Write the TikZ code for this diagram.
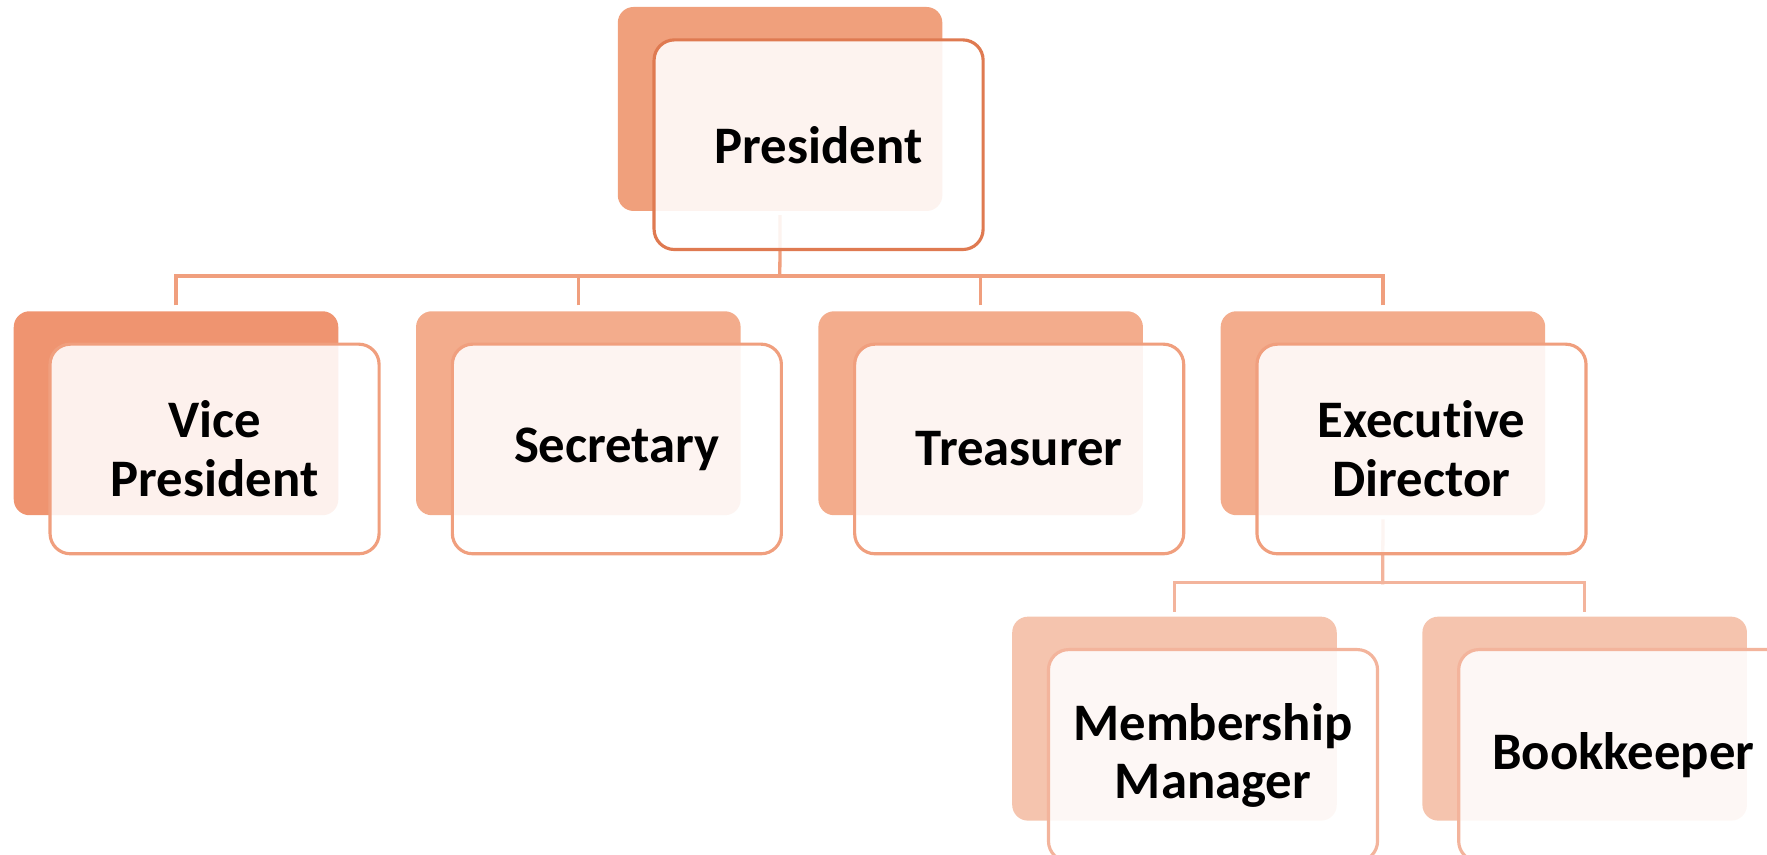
\documentclass[tikz,border=0pt]{standalone}
\usepackage{fontspec}
\setmainfont{Carlito}[Ligatures={NoCommon,NoRare,NoContextual}]
\definecolor{presback}{HTML}{F0A07C}
\definecolor{presline}{HTML}{DF7A51}
\definecolor{vpback}{HTML}{EF9470}
\definecolor{twoback}{HTML}{F3AC8C}
\definecolor{twoline}{HTML}{F09F7E}
\definecolor{threeback}{HTML}{F5C4AE}
\definecolor{threeline}{HTML}{F3B49C}
\begin{document}
\begin{tikzpicture}[x=1pt,y=-1pt,
  backbox/.style={draw=none, rounded corners=14pt, minimum width=288pt, minimum height=181pt, inner sep=0pt, anchor=north west},
  frontbox/.style={rounded corners=18pt, minimum width=292pt, minimum height=186pt, inner sep=0pt, anchor=north west,
     fill=white, fill opacity=0.88, text opacity=1, line width=2.8pt, align=center,
     font=\fontsize{46.8}{52}\selectfont\bfseries},
  link/.style={line width=2.9pt},
]
\useasboundingbox (0,0) rectangle (1568,758);
\clip (0,0) rectangle (1568,758);
% back rectangles
\node[backbox, fill=presback] (presB) at (548,6) {};
\node[backbox, fill=vpback] (vpB) at (12,276) {};
\node[backbox, fill=twoback] (secB) at (369,276) {};
\node[backbox, fill=twoback] (treB) at (726,276) {};
\node[backbox, fill=twoback] (exeB) at (1083,276) {};
\node[backbox, fill=threeback] (memB) at (898,547) {};
\node[backbox, fill=threeback] (booB) at (1262,547) {};
% connectors
\coordinate (barA) at (692,245);
\coordinate (barB) at (1227,517);
\draw[link, twoline, shorten <=5pt] (vpB.north) |- (barA);
\draw[link, twoline, shorten <=5pt] (secB.north) |- (barA);
\draw[link, twoline, shorten <=5pt] (treB.north) |- (barA);
\draw[link, twoline, shorten <=5pt] (exeB.north) |- (barA);
\draw[link, twoline, line cap=rect, shorten <=5pt] (presB.south) -- (barA);
\draw[link, threeline, shorten <=4pt] (memB.north) |- (barB);
\draw[link, threeline, shorten <=4pt] (booB.north) |- (barB);
\draw[link, threeline, line cap=rect, shorten <=5pt] (exeB.south) -- (barB);
% front boxes
\node[frontbox, draw=presline] (presF) at (579,34) {President};
\node[frontbox, draw=twoline] (vpF) at (43,304) {Vice\\President};
\node[frontbox, draw=twoline] (secF) at (400,304) {Secretary};
\node[frontbox, draw=twoline] (treF) at (757,304) {Treasurer};
\node[frontbox, draw=twoline] (exeF) at (1114,304) {Executive\\Director};
\node[frontbox, draw=threeline, minimum height=188pt] (memF) at (929,575) {Membership\\Manager};
\node[frontbox, draw=threeline, minimum height=188pt] (booF) at (1293,575) {Bookkeeper};
\end{tikzpicture}
\end{document}
